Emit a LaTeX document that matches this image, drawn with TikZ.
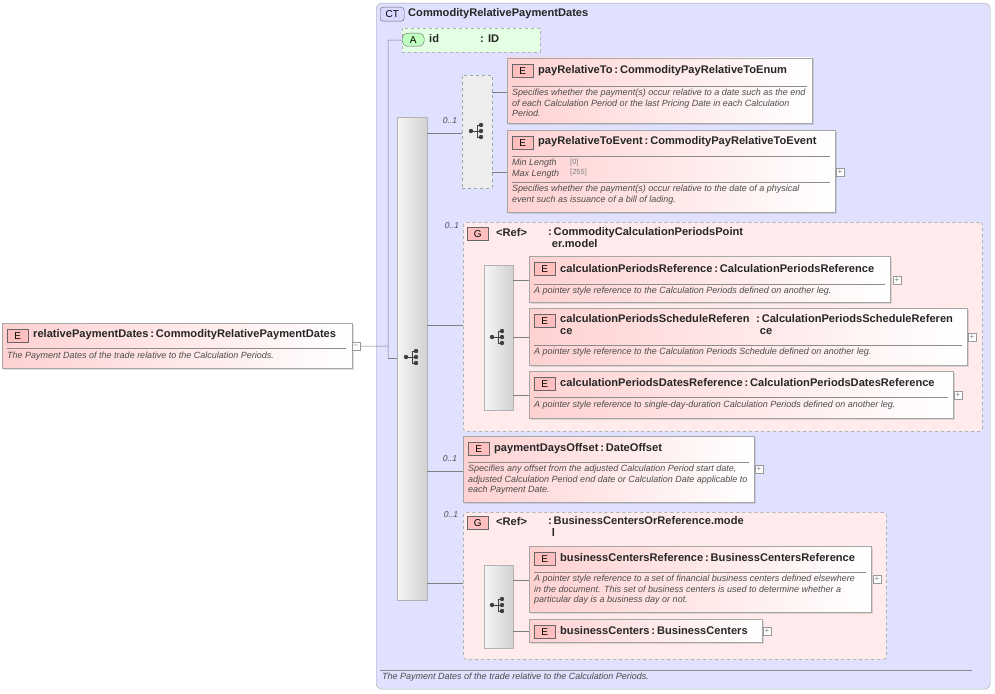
\documentclass[tikz,border=0pt]{standalone}
\usepackage{fontspec}
\setmainfont{Liberation Sans}
\usetikzlibrary{shadows}
\begin{document}
\begin{tikzpicture}[x=1pt,y=-1pt,
  elem/.style={draw=black!35,left color=red!18,right color=white,drop shadow={opacity=0.25,shadow xshift=1.5pt,shadow yshift=-1.5pt},anchor=north west,inner sep=0,outer sep=0},
  grp/.style={draw=black!30,dashed,line width=0.8pt,fill=red!8,rounded corners=3pt,anchor=north west,inner sep=0},
  seq/.style={draw=black!30,left color=black!4,right color=black!18,anchor=north west,inner sep=0},
  chc/.style={draw=black!35,dashed,fill=black!7,anchor=north west,inner sep=0},
  ttl/.style={anchor=west,font=\bfseries\fontsize{11.1}{12.5}\selectfont,inner sep=0,text=black!85},
  dsc/.style={anchor=north west,font=\itshape\fontsize{9}{10.3}\selectfont,inner sep=0,text=black!70,align=left},
  mult/.style={font=\itshape\fontsize{8.5}{9}\selectfont,text=black!70,inner sep=0},
  badge/.style={draw=black!60,fill=red!25,font=\fontsize{10}{10}\selectfont,minimum width=21pt,minimum height=13pt,inner sep=0,anchor=north west},
  pm/.style={draw=black!40,fill=white,minimum size=8pt,inner sep=0,font=\fontsize{8}{8}\selectfont,text=black!50},
  ln/.style={draw=black!50,line width=0.5pt},
  sep/.style={draw=black!45,line width=0.5pt}]
\useasboundingbox (0,0) rectangle (995,693);
\newcommand\seqicon[2]{%
 \begin{scope}[shift={(#1,#2)}]
  \fill[black!75] (-6,0) circle (2.2);
  \draw[black!75,line width=1pt] (-6,0)--(0,0) (0,-6)--(0,6) (0,-6)--(4,-6) (0,0)--(4,0) (0,6)--(4,6);
  \fill[black!75] (4,-6) circle (2.2) (4,0) circle (2.2) (4,6) circle (2.2);
 \end{scope}}
\newcommand\mkbox[6]{\node[#1,minimum width=#4-#2,minimum height=#5-#3] (#6) at (#2,#3) {};}
% complex type
\node[draw=black!35,fill=blue!12,rounded corners=6pt,minimum width=614,minimum height=686,anchor=north west,inner sep=0] (ct) at (376,3) {};
\node[draw=black!60,fill=blue!15,rounded corners=3pt,minimum width=24,minimum height=14,inner sep=0,font=\fontsize{10}{10}\selectfont,anchor=north west] (ctb) at (380,7) {CT};
\node[ttl] (ctt) at (408,14) {CommodityRelativePaymentDates};
\draw[sep] (380,670) -- (972,670);
\node[dsc] (ctd) at (382,673) {The Payment Dates of the trade relative to the Calculation Periods.};
% attribute
\node[draw=black!30,dashed,fill=green!10,minimum width=138,minimum height=24,anchor=north west,inner sep=0] (att) at (402,28) {};
\node[draw=black!60,fill=green!25,rounded corners=5pt,minimum width=22,minimum height=13,inner sep=0,font=\fontsize{10}{10}\selectfont,anchor=north west] (ab) at (402,33) {A};
\node[ttl] (at1) at (429,39) {id};
\node[ttl] (at2) at (480,39) {: ID};
% root element
\mkbox{elem}{2}{323}{352}{368}{root}
\node[badge] (rb) at (7,329) {E};
\node[ttl] (rt) at (33,335) {relativePaymentDates\,:\,CommodityRelativePaymentDates};
\draw[sep] (7,348) -- (346,348);
\node[dsc] (rd) at (7,352) {The Payment Dates of the trade relative to the Calculation Periods.};
\node[pm] (rm) at (356,346) {--};
\coordinate (j1) at (388,346);
\draw[ln] (rm.east) -- (j1) (388,40) -- (388,358) (388,40) -- (att.west) ;
% main sequence
\mkbox{seq}{397}{117}{427}{600}{ms}
\draw[ln] (388,358) -- (ms.west |- 0,358);
\seqicon{412}{357}
% choice
\mkbox{chc}{462}{75}{492}{188}{ch}
\seqicon{477}{131}
\draw[ln] (427,133) -- (462,133);
\node[mult] (m1) at (450,121) {0..1};
\mkbox{elem}{507}{58}{812}{123}{e1}
\node[badge] at (512,64) {E};
\node[ttl] at (538,71) {payRelativeTo\,:\,CommodityPayRelativeToEnum};
\draw[sep] (512,86) -- (807,86);
\node[dsc] at (512,89) {Specifies whether the payment(s) occur relative to a date such as the end\\of each Calculation Period or the last Pricing Date in each Calculation\\Period.};
\mkbox{elem}{507}{130}{835}{212}{e2}
\node[badge] at (512,136) {E};
\node[ttl] at (538,142) {payRelativeToEvent\,:\,CommodityPayRelativeToEvent};
\draw[sep] (512,156) -- (830,156) (512,182) -- (830,182);
\node[dsc] at (512,159) {Min Length\\Max Length};
\node[anchor=north west,inner sep=0,font=\fontsize{7.5}{10.3}\selectfont,text=black!50,align=left] at (570,159) {{[0]}\\{[255]}};
\node[dsc] at (512,185) {Specifies whether the payment(s) occur relative to the date of a physical\\event such as issuance of a bill of lading.};
\node[pm] at (840,172) {+};
\draw[ln] (492,92) -- (e1.west |- 0,92) (492,172) -- (e2.west |- 0,172);
% group 1
\mkbox{grp}{463}{222}{982}{431}{g1}
\node[mult] at (452,226) {0..1};
\draw[ln] (427,325) -- (463,325);
\node[badge,fill=red!25] at (467,227) {G};
\node[ttl] at (496,233) {<Ref>};
\node[ttl,align=left,anchor=north west] at (548,227) {:\,CommodityCalculationPeriodsPoint\\\,\,er.model};
\mkbox{seq}{484}{265}{513}{410}{s1}
\seqicon{498}{337}
\mkbox{elem}{529}{256}{890}{302}{e3}
\node[badge] at (534,262) {E};
\node[ttl] at (560,269) {calculationPeriodsReference\,:\,CalculationPeriodsReference};
\draw[sep] (534,284) -- (885,284);
\node[dsc] at (534,287) {A pointer style reference to the Calculation Periods defined on another leg.};
\node[pm] at (897,280) {+};
\mkbox{elem}{529}{308}{967}{365}{e4}
\node[badge] at (534,314) {E};
\node[ttl,anchor=north west,align=left] at (560,314) {calculationPeriodsScheduleReferen\\ce};
\node[ttl,anchor=north west,align=left] at (756,314) {:\,CalculationPeriodsScheduleReferen\\\,\,ce};
\draw[sep] (534,345) -- (962,345);
\node[dsc] at (534,348) {A pointer style reference to the Calculation Periods Schedule defined on another leg.};
\node[pm] at (972,337) {+};
\mkbox{elem}{529}{371}{953}{418}{e5}
\node[badge] at (534,377) {E};
\node[ttl] at (560,383) {calculationPeriodsDatesReference\,:\,CalculationPeriodsDatesReference};
\draw[sep] (534,397) -- (948,397);
\node[dsc] at (534,401) {A pointer style reference to single-day-duration Calculation Periods defined on another leg.};
\node[pm] at (958,395) {+};
\draw[ln] (513,280) -- (529,280) (513,337) -- (529,337) (513,395) -- (529,395);
% paymentDaysOffset
\mkbox{elem}{463}{436}{754}{502}{e6}
\node[mult] at (450,459) {0..1};
\draw[ln] (427,471) -- (463,471);
\node[badge] at (468,442) {E};
\node[ttl] at (494,449) {paymentDaysOffset\,:\,DateOffset};
\draw[sep] (468,462) -- (749,462);
\node[dsc] at (468,465) {Specifies any offset from the adjusted Calculation Period start date,\\adjusted Calculation Period end date or Calculation Date applicable to\\each Payment Date.};
\node[pm] at (759,469) {+};
% group 2
\mkbox{grp}{463}{512}{886}{659}{g2}
\node[mult] at (451,515) {0..1};
\draw[ln] (427,583) -- (463,583);
\node[badge] at (467,516) {G};
\node[ttl] at (496,522) {<Ref>};
\node[ttl,align=left,anchor=north west] at (548,516) {:\,BusinessCentersOrReference.mode\\\,\,l};
\mkbox{seq}{484}{565}{513}{648}{s2}
\seqicon{498}{605}
\mkbox{elem}{529}{546}{871}{612}{e7}
\node[badge] at (534,552) {E};
\node[ttl] at (560,558) {businessCentersReference\,:\,BusinessCentersReference};
\draw[sep] (534,572) -- (866,572);
\node[dsc] at (534,575) {A pointer style reference to a set of financial business centers defined elsewhere\\in the document. This set of business centers is used to determine whether a\\particular day is a business day or not.};
\node[pm] at (877,579) {+};
\mkbox{elem}{529}{619}{762}{642}{e8}
\node[badge] at (534,625) {E};
\node[ttl] at (560,631) {businessCenters\,:\,BusinessCenters};
\node[pm] at (767,631) {+};
\draw[ln] (513,580) -- (529,580) (513,631) -- (529,631);
\end{tikzpicture}
\end{document}
